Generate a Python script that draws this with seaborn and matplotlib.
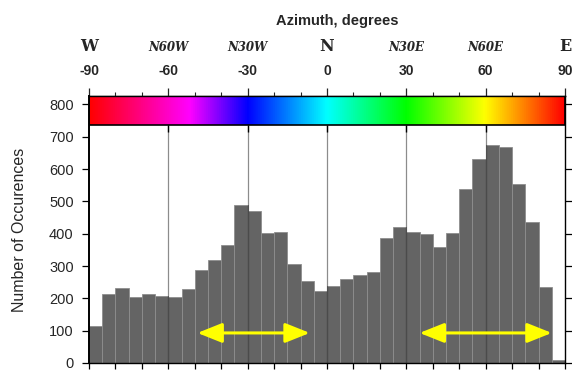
import numpy as np
import pandas as pd
import matplotlib
matplotlib.use("Agg")
import matplotlib.pyplot as plt
import matplotlib.transforms as mtransforms
from matplotlib.colors import LinearSegmentedColormap
import seaborn as sns

# ---- data ----
bin_edges = list(range(-90, 95, 5))
counts = [115, 215, 233, 205, 212, 208, 204, 229, 288, 319, 365, 489,
          470, 402, 404, 305, 255, 224, 237, 261, 271, 281, 387, 420,
          405, 400, 358, 403, 539, 630, 673, 667, 554, 435, 235, 10]
top_ticks = [-90, -60, -30, 0, 30, 60, 90]
compass_labels = ["W", "N60W", "N30W", "N", "N30E", "N60E", "E"]
grid_lines = [-60, -30, 0, 30, 60]
arrow_starts = [-49, 35]
arrow_ends = [-6.5, 85]
arrow_levels = [93, 93]

sns.set_style("ticks")
plt.rcParams["font.family"] = ["Liberation Sans", "DejaVu Sans"]

fig = plt.figure(figsize=(5.72, 3.70), dpi=100)
ax = fig.add_axes([89/572, 1-363/370, (565-89)/572, (363-96)/370])

centers = [(bin_edges[i] + bin_edges[i+1]) / 2 for i in range(len(counts))]
df = pd.DataFrame({"azimuth": centers, "count": counts})
sns.histplot(data=df, x="azimuth", weights="count", bins=bin_edges,
             color="#646464", alpha=1, edgecolor="#8e8e8e", linewidth=0.6,
             ax=ax, zorder=2)

cb_bottom, y_top = 737, 826
# vertical reference lines
ax.vlines(grid_lines, 0, cb_bottom, color="black", alpha=0.45, lw=0.9, zorder=3)
ax.vlines(grid_lines, cb_bottom - 22, cb_bottom, color="black", lw=1.0, zorder=3)

# colour bar strip
cmap = LinearSegmentedColormap.from_list(
    "az", [(0.0, "#ff0000"), (0.211, "#ff00ff"), (0.333, "#0000ff"),
           (0.5, "#00ffff"), (0.667, "#00ff00"), (0.833, "#ffff00"),
           (1.0, "#ff0000")])
grad = np.linspace(0, 1, 512)[None, :]
ax.imshow(grad, extent=[-90, 90, cb_bottom, y_top], aspect="auto",
          cmap=cmap, zorder=1, interpolation="bilinear")
ax.add_patch(plt.Rectangle((-90, cb_bottom), 180, y_top - cb_bottom,
                           fill=False, ec="black", lw=1.2, zorder=4))

# yellow arrows
for s, e, lv in zip(arrow_starts, arrow_ends, arrow_levels):
    ax.annotate("", xy=(e, lv), xytext=(s, lv),
                arrowprops=dict(arrowstyle="<|-|>,head_length=1.5,head_width=0.6",
                                color="#ffff00", lw=2.2, mutation_scale=10,
                                shrinkA=0, shrinkB=0),
                zorder=5)

ax.set_xlim(-90, 90)
ax.set_ylim(0, y_top)
ax.set_xlabel("")
ax.set_yticks(range(0, 900, 100))
ax.set_xticks(range(-90, 100, 10))
ax.set_xticklabels([])
ax.tick_params(axis="x", which="both", bottom=True, top=False, direction="out",
               length=4, width=0.9, color="black")
ax.tick_params(axis="y", which="both", left=True, right=True, direction="out",
               length=5, width=0.9, pad=6, labelsize=10.5, color="black")
for sp in ax.spines.values():
    sp.set_visible(True)
    sp.set_linewidth(1.0)
    sp.set_color("black")
ax.spines["left"].set_linewidth(1.4)

ax.set_ylabel("Number of Occurences", fontsize=11.5)
ax.yaxis.set_label_coords(-0.13, 0.5)

# top azimuth axis
sec = ax.secondary_xaxis("top")
sec.set_xticks(top_ticks)
sec.set_xticklabels([str(t) for t in top_ticks], fontweight="bold", fontsize=10)
sec.set_xticks(range(-90, 100, 10), minor=True)
sec.tick_params(axis="x", which="major", length=6, width=0.9, pad=7)
sec.tick_params(axis="x", which="minor", length=3, width=0.8)
sec.spines["top"].set_linewidth(1.0)

ax.set_title("Azimuth, degrees", fontweight="bold", fontsize=10.5,
             x=(337-89)/476, y=(363-25)/267, pad=0)

trans = mtransforms.blended_transform_factory(ax.transData, fig.transFigure)
for t, lab in zip(top_ticks, compass_labels):
    if len(lab) == 1:
        ax.text(t, 1-51/370, lab, transform=trans, ha="center", va="baseline",
                fontfamily="DejaVu Serif", fontweight="bold", fontsize=11.5)
    else:
        ax.text(t, 1-51/370, lab, transform=trans, ha="center", va="baseline",
                fontfamily="DejaVu Serif", fontweight="bold", fontstyle="italic",
                fontsize=8.5)

fig.savefig("out.png", dpi=100)
